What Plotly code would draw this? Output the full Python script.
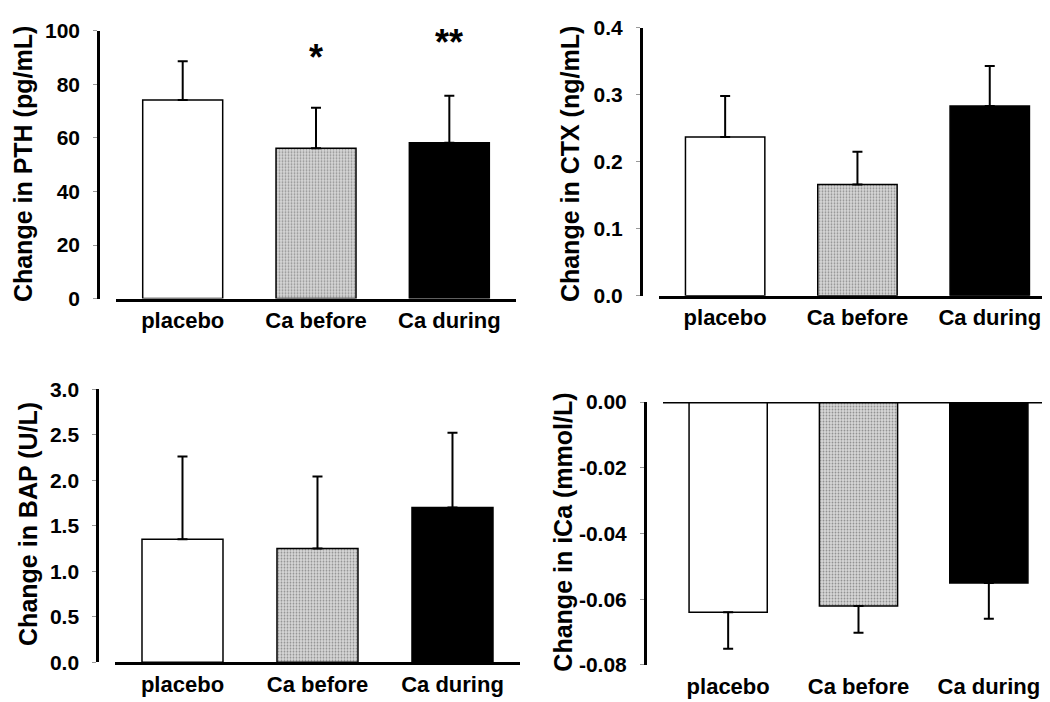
import plotly.graph_objects as go

categories = ["placebo", "Ca before", "Ca during"]

pth_mean = [74.1, 56.1, 58.2]
pth_err = [14.5, 15.1, 17.5]

ctx_mean = [0.237, 0.166, 0.283]
ctx_err = [0.061, 0.049, 0.060]

bap_mean = [1.35, 1.25, 1.70]
bap_err = [0.91, 0.79, 0.82]

ica_mean = [-0.0640, -0.0621, -0.0551]
ica_err = [0.0111, 0.0081, 0.0109]

ica_tickvals = [0.0, -0.02, -0.04, -0.06, -0.08]
ica_ticktext = ["0.00", "-0.02", "-0.04", "-0.06", "-0.08"]

bar_colors = ["white", "#d8d8d8", "black"]

FONT = "Liberation Sans, Arial, sans-serif"

fig = go.Figure()

panels = [
    (pth_mean, pth_err, "x", "y", False),
    (ctx_mean, ctx_err, "x2", "y2", False),
    (bap_mean, bap_err, "x3", "y3", False),
    (ica_mean, ica_err, "x4", "y4", True),
]

for mean, err, xa, ya, neg in panels:
    ebar = dict(type="data", symmetric=False, color="black", thickness=2, width=5)
    if neg:
        ebar["array"] = [0, 0, 0]
        ebar["arrayminus"] = err
    else:
        ebar["array"] = err
        ebar["arrayminus"] = [0, 0, 0]
    fig.add_trace(go.Bar(
        x=categories, y=mean, xaxis=xa, yaxis=ya,
        width=0.6,
        marker=dict(
            color=bar_colors,
            line=dict(color="black", width=1.5),
            pattern=dict(shape=["", ".", ""], fgcolor="#a8a8a8", bgcolor="#dadada",
                         size=3, solidity=0.3),
        ),
        error_y=ebar,
        showlegend=False,
    ))

tickfont = dict(family=FONT, size=21, color="black")

def xax(domain, anchor, showline=True, standoff=None):
    d = dict(domain=domain, anchor=anchor, range=[-0.5, 2.5], showline=showline,
             linecolor="black", linewidth=3, ticks="", showgrid=False, zeroline=False,
             tickfont=dict(family=FONT, size=22, color="black"), fixedrange=True)
    if standoff is not None:
        d["ticklabelstandoff"] = standoff
    return d

def yax(domain, pos, rng, dtick, fmt):
    return dict(domain=domain, anchor="free", position=pos, range=rng, dtick=dtick,
                tickformat=fmt, showline=True, linecolor="black", linewidth=2.5,
                ticks="outside", ticklen=4, tickwidth=1, tickcolor="#999",
                showgrid=False, zeroline=False, tickfont=tickfont,
                ticklabelstandoff=9, fixedrange=True)

y4 = yax([0.0503, 0.4373], 0.6064, [-0.08, 0], 0.02, ".2f")
y4.update(tickmode="array", tickvals=ica_tickvals, ticktext=ica_ticktext)

fig.update_layout(
    width=1050, height=702,
    margin=dict(l=0, r=0, t=0, b=0),
    paper_bgcolor="white", plot_bgcolor="white",
    xaxis=xax([0.1029, 0.4838], "y"),
    yaxis=yax([0.5897, 0.9843], 0.0857, [0, 100], 20, "d"),
    xaxis2=xax([0.620, 0.998], "y2"),
    yaxis2=yax([0.594, 0.9886], 0.6026, [0, 0.4], 0.1, ".1f"),
    xaxis3=xax([0.1019, 0.4876], "y3"),
    yaxis3=yax([0.0541, 0.4563], 0.0848, [0, 3.0], 0.5, ".1f"),
    xaxis4=xax([0.6238, 0.9962], "y4", showline=False, standoff=6),
    yaxis4=y4,
)

# zero line (x-axis line) for the negative panel
fig.add_shape(type="line", xref="x4", yref="y4", x0=-0.5, x1=2.5, y0=0, y1=0,
              line=dict(color="black", width=3))

titlefont = dict(family=FONT, size=25, color="black")
titles = [
    ("Change in PTH (pg/mL)", 15, 149),
    ("Change in CTX (ng/mL)", 562, 149),
    ("Change in BAP (U/L)", 20, 521),
    ("Change in iCa (mmol/L)", 555, 530),
]
for text, px, py in titles:
    fig.add_annotation(text="<b>%s</b>" % text, xref="paper", yref="paper",
                       x=px / 1050, y=1 - py / 702, showarrow=False, textangle=-90,
                       font=titlefont, xanchor="center", yanchor="middle")

fig.add_annotation(text="<b>*</b>", xref="x", yref="y", x="Ca before", y=90,
                   showarrow=False, font=dict(family=FONT, size=36, color="black"))
fig.add_annotation(text="<b>**</b>", xref="x", yref="y", x="Ca during", y=95.5,
                   showarrow=False, font=dict(family=FONT, size=36, color="black"))

fig.update_xaxes(tickprefix="<b>", ticksuffix="</b>")
fig.update_yaxes(tickprefix="<b>", ticksuffix="</b>")
fig.layout.yaxis4.tickprefix = None
fig.layout.yaxis4.ticksuffix = None
fig.layout.yaxis4.ticktext = ["<b>%s</b>" % t for t in ica_ticktext]

fig.write_html("out.html")
